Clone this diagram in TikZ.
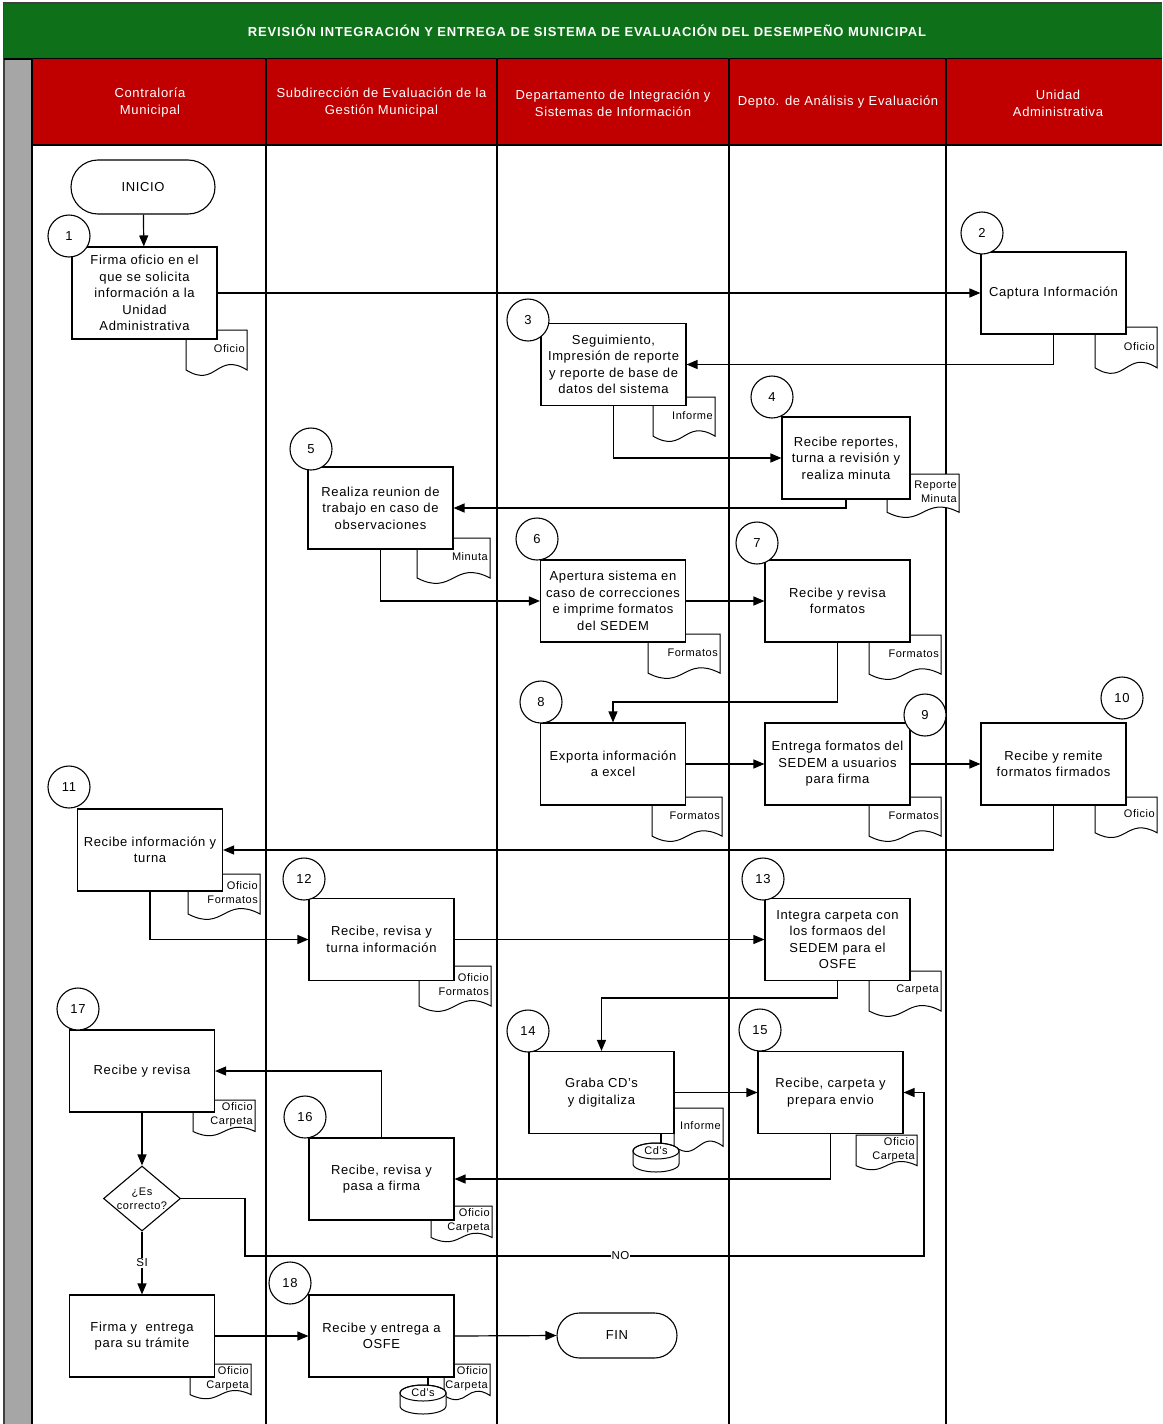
\documentclass[tikz,border=0pt]{standalone}
\usepackage{fontspec}
\setmainfont{Liberation Sans}[LetterSpace=5]
\newfontfamily\titlefont{Liberation Sans}[LetterSpace=6.5]
\usetikzlibrary{arrows.meta,shapes.geometric}

\definecolor{bandgreen}{RGB}{14,112,24}
\definecolor{headred}{RGB}{192,0,0}
\definecolor{stripgray}{RGB}{166,166,166}

\newcommand\fsz[2]{\fontsize{#1}{#2}\selectfont}

\tikzset{
  laneline/.style={line width=1.8pt, black},
  procbox/.style={draw, fill=white, line width=1.1pt, minimum width=145pt,
    minimum height=82pt, inner sep=1pt, align=center, font=\fsz{13}{16.5}},
  terminal/.style={draw, fill=white, line width=1.1pt, align=center,
    font=\fsz{13}{16}},
  stepnum/.style={circle, draw, fill=white, line width=1.1pt,
    minimum size=42pt, inner sep=0pt, font=\fsz{13}{15}},
  docline/.style={draw, fill=white, line width=1pt},
  doctext/.style={inner sep=0pt, align=right, font=\fsz{11}{14}},
  flow/.style={line width=1.2pt, -{Triangle[length=11pt,width=9pt]}},
  plainflow/.style={line width=1.2pt},
  lbl/.style={fill=white, inner sep=1pt, font=\fsz{11.5}{13}},
  headtext/.style={text=white, align=center, font=\fsz{13}{17}},
}

% paper document with a wavy lower edge: name, left, top, width, height, label
\newcommand\docshape[6]{%
  \draw[docline] (#2,#3+0.85*#5) -- (#2,#3) -- (#2+#4,#3) -- (#2+#4,#3+0.85*#5)
    .. controls (#2+0.5*#4,#3+0.45*#5) and (#2+0.5*#4,#3+1.25*#5) .. (#2,#3+0.85*#5) -- cycle;
  \node[doctext, anchor=east] (#1) at (#2+#4-2,#3+0.4*#5) {#6};
}

% disk storage cylinder: name, centre x, top y, label
\newcommand\diskshape[4]{%
  \draw[docline] (#2-23,#3+8) -- (#2-23,#3+21)
    arc[start angle=180, end angle=360, x radius=23pt, y radius=8pt]
    -- (#2+23,#3+8)
    arc[start angle=0, end angle=180, x radius=23pt, y radius=8pt] -- cycle;
  \draw[line width=1pt] (#2,#3+8) ellipse[x radius=23pt, y radius=8pt];
  \node[doctext] (#1) at (#2,#3+8) {#4};
  \coordinate (#1top) at (#2+5,#3+0.5);
}

\begin{document}
\begin{tikzpicture}[x=1pt, y=-1pt]
\useasboundingbox (0,0) rectangle (1162,1424);
\fill[white] (0,0) rectangle (1162,1424);

% ---- frame, title band, header row ----
\fill[stripgray] (4,59) rectangle (31,1424);
\draw[line width=1.2pt, black!75] (4,1424) -- (4,3) -- (1162,3);
\fill[bandgreen] (4,4) rectangle (1162,59);
\draw[line width=1.4pt] (4,59) -- (1162,59);
\node[text=white, font=\titlefont\bfseries\fsz{13}{15}] (title) at (587,31)
  {REVISIÓN INTEGRACIÓN Y ENTREGA DE SISTEMA DE EVALUACIÓN DEL DESEMPEÑO MUNICIPAL};
\fill[headred] (33,59) rectangle (1162,145);
\draw[line width=1.4pt] (33,145) -- (1162,145);

\foreach \lx in {32,266,497,729,946} {
  \draw[laneline] (\lx,59) -- (\lx,1424);
}

\node[headtext] (h1) at (150,103) {Contraloría\\Municipal};
\node[headtext] (h2) at (381.5,103) {Subdirección de Evaluación de la\\Gestión Municipal};
\node[headtext] (h3) at (613,103) {Departamento de Integración y\\Sistemas de Información};
\node[headtext] (h4) at (838,102) {Depto. de Análisis y Evaluación};
\node[headtext] (h5) at (1058,103) {Unidad\\Administrativa};

% ---- documents behind the process boxes ----
\docshape{d1}{186}{330}{61}{47}{Oficio}
\docshape{d2}{1095}{327}{62}{48}{Oficio}
\docshape{d3}{653}{397}{62}{46}{Informe}
\docshape{d4}{887}{474}{72}{45}{Reporte\\Minuta}
\docshape{d5}{417}{538}{73}{47}{Minuta}
\docshape{d6}{648}{634}{72}{46}{Formatos}
\docshape{d7}{869}{635}{72}{46}{Formatos}
\docshape{d8}{652}{797}{70}{46}{Formatos}
\docshape{d9}{869}{797}{72}{46}{Formatos}
\docshape{d10}{1095}{797}{62}{42}{Oficio}
\docshape{d11}{188}{874}{72}{47}{Oficio\\Formatos}
\docshape{d12}{419}{966}{72}{47}{Oficio\\Formatos}
\docshape{d13}{869}{971}{72}{47}{Carpeta}
\docshape{d14}{674}{1108}{49}{45}{Informe}
\docshape{d15}{856}{1135}{61}{36}{Oficio\\Carpeta}
\docshape{d16}{431}{1206}{61}{37}{Oficio\\Carpeta}
\docshape{d17}{193}{1100}{62}{37}{Oficio\\Carpeta}
\docshape{d19}{190}{1364}{61}{36}{Oficio\\Carpeta}
\docshape{d20}{444}{1364}{46}{37}{Oficio\\Carpeta}

% ---- terminals, process boxes, decision ----
\node[terminal, minimum width=144pt, minimum height=54pt, rounded corners=27pt] (start) at (143,187) {INICIO};
\node[procbox, minimum height=92pt] (b1) at (144.5,293) {Firma oficio en el\\que se solicita\\información a la\\Unidad\\Administrativa};
\node[procbox] (b2) at (1053.5,293) {Captura Información};
\node[procbox] (b3) at (613.5,364.5) {Seguimiento,\\Impresión de reporte\\y reporte de base de\\datos del sistema};
\node[procbox, minimum width=128pt] (b4) at (846,458) {Recibe reportes,\\turna a revisión y\\realiza minuta};
\node[procbox] (b5) at (380.5,508) {Realiza reunion de\\trabajo en caso de\\observaciones};
\node[procbox] (b6) at (613,601) {Apertura sistema en\\caso de correcciones\\e imprime formatos\\del SEDEM};
\node[procbox] (b7) at (837.5,601) {Recibe y revisa\\formatos};
\node[procbox] (b8) at (613,764) {Exporta información\\a excel};
\node[procbox] (b9) at (837.5,764) {Entrega formatos del\\SEDEM a usuarios\\para firma};
\node[procbox] (b10) at (1053.5,764) {Recibe y remite\\formatos firmados};
\node[procbox] (b11) at (150,850) {Recibe información y\\turna};
\node[procbox] (b12) at (381.5,939.5) {Recibe, revisa y\\turna información};
\node[procbox] (b13) at (837.5,939.5) {Integra carpeta con\\los formaos del\\SEDEM para el\\OSFE};
\node[procbox] (b14) at (601.5,1092.5) {Graba CD’s\\y digitaliza};
\node[procbox] (b15) at (830.5,1092.5) {Recibe, carpeta y\\prepara envio};
\node[procbox] (b16) at (381.5,1179) {Recibe, revisa y\\pasa a firma};
\node[procbox] (b17) at (142,1071) {Recibe y revisa};
\node[diamond, draw, fill=white, line width=1.1pt, minimum width=77pt, minimum height=65pt, inner sep=0pt] (dia) at (142,1198.5) {};
\node[inner sep=0pt, align=center, font=\fsz{11}{14}] (diatext) at (dia) {¿Es\\correcto?};
\node[procbox] (b19) at (142,1336) {Firma y~ entrega\\para su trámite};
\node[procbox] (b20) at (381.5,1336) {Recibe y entrega a\\OSFE};
\node[terminal, minimum width=120pt, minimum height=45pt, rounded corners=22.5pt] (fin) at (617,1335.5) {FIN};

% ---- storage disks ----
\diskshape{cd1}{656}{1143}{Cd's}
\diskshape{cd2}{423}{1385}{Cd's}
\draw[plainflow] (cd1top) -- (cd1top |- b14.south);
\draw[plainflow] (cd2top) -- (cd2top |- b20.south);

% ---- bend points ----
\coordinate (k7) at (837.5,702);
\coordinate (k13) at (837.5,998);
\coordinate (noA) at (245,1256);
\coordinate (noB) at (924,1256);

% ---- connectors ----
\draw[flow] (start) -- (b1);
\draw[flow] (b1.east) -- (b2.west);
\draw[flow] (b2.south) |- (b3.east);
\draw[flow] (b3.south) |- (b4.west);
\draw[flow] (b4.south) |- (b5.east);
\draw[flow] (b5.south) |- (b6.west);
\draw[flow] (b6.east) -- (b7.west);
\draw[flow] (b7.south) -- (k7) -| (b8.north);
\draw[flow] (b8.east) -- (b9.west);
\draw[flow] (b9.east) -- (b10.west);
\draw[flow] (b10.south) |- (b11.east);
\draw[flow] (b11.south) |- (b12.west);
\draw[flow] (b12.east) -- (b13.west);
\draw[flow] (b13.south) -- (k13) -| (b14.north);
\draw[flow] (b14.east) -- (b15.west);
\draw[flow] (b15.south) |- (b16.east);
\draw[flow] (b16.north) |- (b17.east);
\draw[flow] (b17.south) -- (dia.north);
\draw[flow] (dia.east) -| (noA) -- node[lbl, pos=0.553] {NO} (noB) |- (b15.east);
\draw[flow] (dia.south) -- node[lbl] {SI} (b19.north);
\draw[flow] (b19.east) -- (b20.west);
\draw[flow] (b20.east) -- (fin.west);

% ---- step numbers ----
\node[stepnum] (n1) at (69,236) {1};
\node[stepnum] (n2) at (982,233) {2};
\node[stepnum] (n3) at (528,320) {3};
\node[stepnum] (n4) at (772,397) {4};
\node[stepnum] (n5) at (311,449) {5};
\node[stepnum] (n6) at (537,539) {6};
\node[stepnum] (n7) at (757,543) {7};
\node[stepnum] (n8) at (541,702) {8};
\node[stepnum] (n9) at (925,715) {9};
\node[stepnum] (n10) at (1122,698) {10};
\node[stepnum] (n11) at (69,787) {11};
\node[stepnum] (n12) at (304,879) {12};
\node[stepnum] (n13) at (763,879) {13};
\node[stepnum] (n14) at (528,1031) {14};
\node[stepnum] (n15) at (760,1030) {15};
\node[stepnum] (n16) at (305,1117) {16};
\node[stepnum] (n17) at (78,1009) {17};
\node[stepnum] (n18) at (290,1283) {18};
\end{tikzpicture}
\end{document}
